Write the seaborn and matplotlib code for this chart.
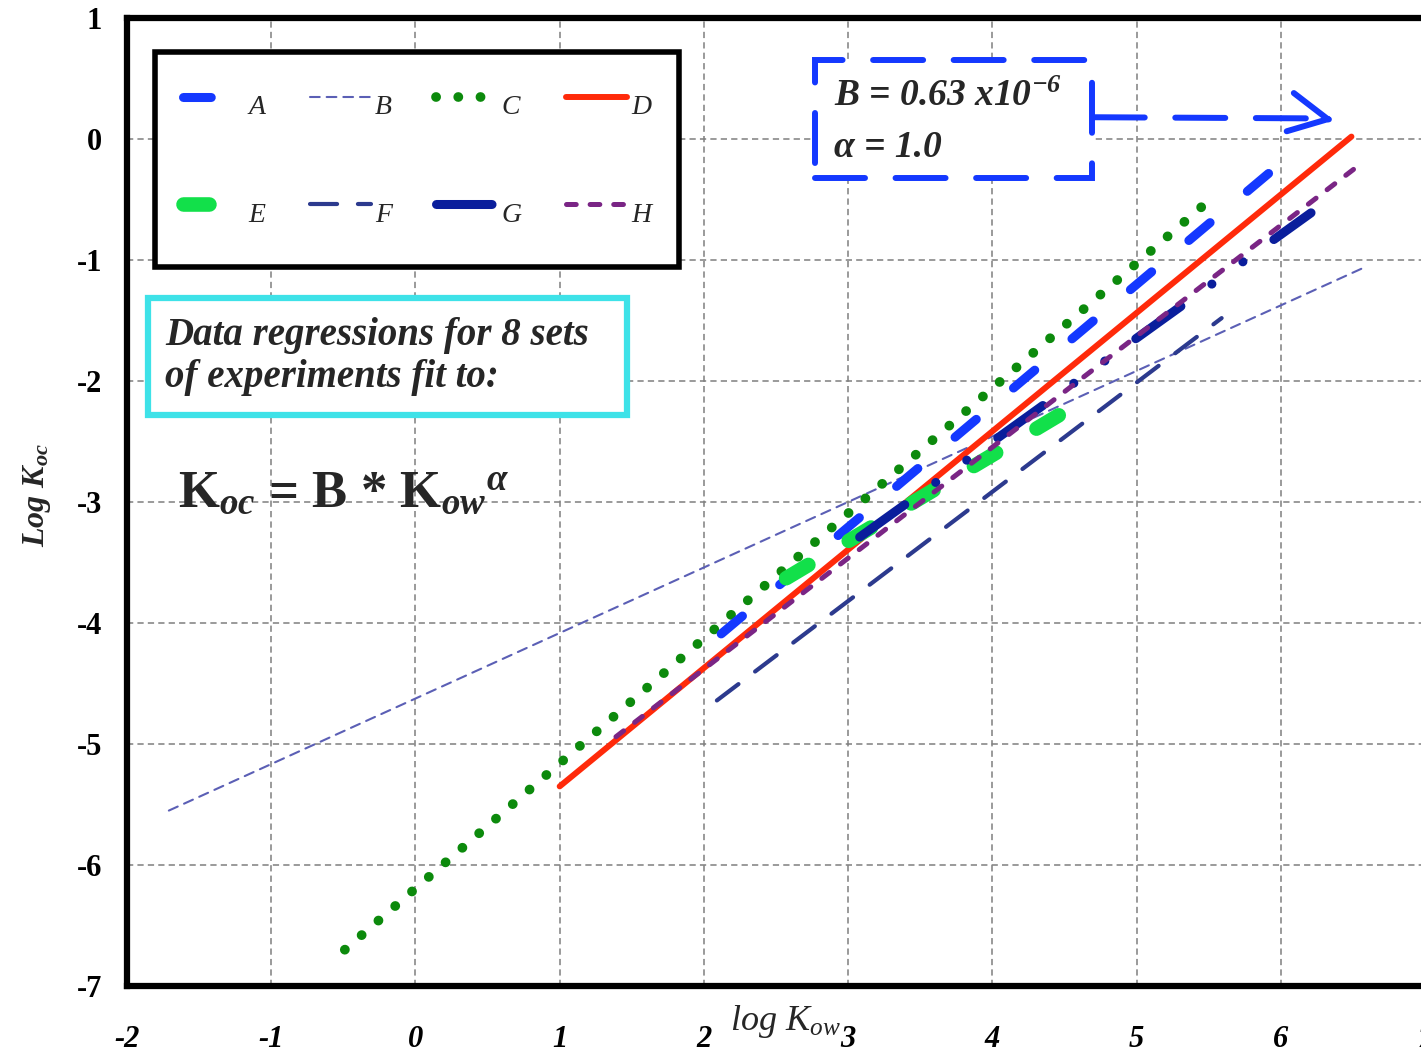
import numpy as np
import pandas as pd
import seaborn as sns
import matplotlib.pyplot as plt
from matplotlib.patches import Rectangle

# regression lines (log Kow -> log Koc)
series = ['A', 'B', 'C', 'D', 'E', 'F', 'G', 'H']
x_start = [2.12, -1.71, -0.49, 1.00, 2.57, 2.09, 3.08, 1.39]
x_end = [5.96, 6.60, 5.51, 6.49, 4.69, 5.59, 6.21, 6.56]
y_start = [-4.09, -5.55, -6.70, -5.35, -3.63, -4.64, -3.29, -4.94]
y_end = [-0.24, -1.05, -0.50, 0.02, -2.12, -1.48, -0.61, -0.20]

xticks = [-2, -1, 0, 1, 2, 3, 4, 5, 6, 7]
yticks = [-7, -6, -5, -4, -3, -2, -1, 0, 1]

box_lines = ['Data regressions for 8 sets', 'of experiments fit to:']
fit_B = '0.63'
fit_alpha = '1.0'

# styles (dash patterns in points)
styles = {
    'A': dict(color='#1438ff', lw=6.5, ls=(0, (20, 35)), z=4),
    'B': dict(color='#5b5fb5', lw=1.5, ls=(0, (7, 5)), z=2),
    'C': dict(color='#0c8a0c', lw=7.0, ls=(0, (0.1, 15.9)), z=3),
    'D': dict(color='#ff2a0a', lw=4.3, ls='-', z=5),
    'E': dict(color='#12e04a', lw=10.5, ls=(0, (18.7, 33.8)), z=6),
    'F': dict(color='#2c3a8e', lw=3.0, ls=(0, (19.5, 15)), z=9),
    'G': dict(color='#0a1e9c', lw=6.5, ls=(0, (40, 27.4, 0.1, 27.4, 0.1, 27.4)), z=7),
    'H': dict(color='#7a2585', lw=3.6, ls=(0, (7, 10)), z=8),
}
legend_order = ['A', 'E', 'B', 'F', 'C', 'G', 'D', 'H']

lines_df = pd.DataFrame({
    'series': series * 2,
    'x': x_start + x_end,
    'y': y_start + y_end,
})

sns.set_theme(style='white')
plt.rcParams['font.family'] = ['Liberation Serif', 'DejaVu Serif']
plt.rcParams['lines.scale_dashes'] = False
plt.rcParams['axes.unicode_minus'] = False
plt.rcParams['mathtext.fontset'] = 'custom'
plt.rcParams['mathtext.rm'] = 'Liberation Serif:bold'
plt.rcParams['mathtext.it'] = 'Liberation Serif:italic:bold'
plt.rcParams['mathtext.bf'] = 'Liberation Serif:bold'

fig = plt.figure(figsize=(14.21, 10.54), dpi=100)
ax = fig.add_axes([0.0894, 0.0645, 0.9134, 0.9184])

handles = {}
for s in series:
    st = styles[s]
    sns.lineplot(data=lines_df[lines_df['series'] == s], x='x', y='y', ax=ax,
                 color=st['color'], linewidth=st['lw'], linestyle=st['ls'],
                 dash_capstyle='round', solid_capstyle='round',
                 zorder=st['z'], errorbar=None, legend=False)
    handles[s] = ax.lines[-1]

ax.set_xlim(-2, 7)
ax.set_ylim(-7, 1)
ax.set_xticks(xticks)
ax.set_yticks(yticks)
ax.set_xticklabels([str(v) for v in xticks], fontsize=22, fontweight='bold', fontstyle='italic')
ax.set_yticklabels([str(v) for v in yticks], fontsize=22, fontweight='bold')
ax.tick_params(axis='x', direction='in', length=7, width=1.5, pad=28, colors='black')
ax.tick_params(axis='y', direction='in', length=7, width=1.5, pad=18, colors='black')
ax.set_xlabel('')
ax.set_ylabel('')
ax.set_axisbelow(True)
ax.grid(True, color='#7f7f7f', linestyle=(0, (4.5, 3)), linewidth=1.1)
for side in ['left', 'bottom', 'top', 'right']:
    ax.spines[side].set_color('black')
    ax.spines[side].set_linewidth(4.5)

# axis titles
ax.text(0.507, -0.037, r'log K$_{\mathregular{ow}}$', transform=ax.transAxes,
        ha='center', va='center', fontsize=26, fontstyle='italic', clip_on=False)
ax.text(-0.069, 0.507, r'Log K$_{oc}$', transform=ax.transAxes, rotation=90,
        ha='center', va='center', fontsize=23, fontstyle='italic', fontweight='bold',
        clip_on=False)

# legend
leg = ax.legend([handles[s] for s in legend_order], legend_order, ncol=4,
                loc='upper left', bbox_to_anchor=(0.0216, 0.965), borderaxespad=0,
                prop=dict(family='Liberation Serif', style='italic', size=20),
                handlelength=2.2, handleheight=2.5, labelspacing=2.0,
                columnspacing=1.6, borderpad=1.0, handletextpad=0.15,
                frameon=True, fancybox=False, framealpha=1, edgecolor='black')
leg.get_frame().set_linewidth(4)
leg.set_zorder(20)

# cyan note box
ax.add_patch(Rectangle((0.0162, 0.590), 0.369, 0.121, transform=ax.transAxes,
                       fill=True, facecolor='white', edgecolor='#3ee2e8',
                       linewidth=4.5, zorder=20))
ax.text(0.0293, 0.6505, '\n'.join(box_lines), transform=ax.transAxes,
        ha='left', va='center', fontsize=28, fontweight='bold', fontstyle='italic',
        linespacing=1.2, zorder=21)

# fitted form
ax.text(0.039, 0.509, r'K$_{oc}$ = B * K$_{ow}{}^{\alpha}$', transform=ax.transAxes,
        ha='left', va='center', fontsize=38, fontweight='bold', zorder=21)

# blue dashed box with the A fit constants
blue = '#1438ff'
box = Rectangle((2.77, -0.32), 1.92, 0.97, fill=True, facecolor='white',
                edgecolor=blue, linewidth=4.3, linestyle=(0, (36, 22)), zorder=20)
box.set_capstyle('round')
ax.add_patch(box)
ax.text(2.90, 0.35, r'B = ' + fit_B + r' x10$^{\mathregular{-6}}$', ha='left', va='center',
        fontsize=27, fontweight='bold', fontstyle='italic', zorder=21)
ax.text(2.90, -0.07, 'α = ' + fit_alpha, ha='left', va='center',
        fontsize=27, fontweight='bold', fontstyle='italic', zorder=21)
ax.plot([4.71, 6.33], [0.18, 0.17], color=blue, lw=4.3, linestyle=(0, (36, 22)),
        dash_capstyle='round', zorder=20)
ax.annotate('', xy=(6.39, 0.15), xytext=(6.30, 0.17),
            arrowprops=dict(arrowstyle='->,head_length=0.55,head_width=0.28',
                            mutation_scale=50, color=blue, lw=4.3,
                            capstyle='round', joinstyle='round'),
            zorder=20)

fig.savefig('out.png', dpi=100)
plt.close()
